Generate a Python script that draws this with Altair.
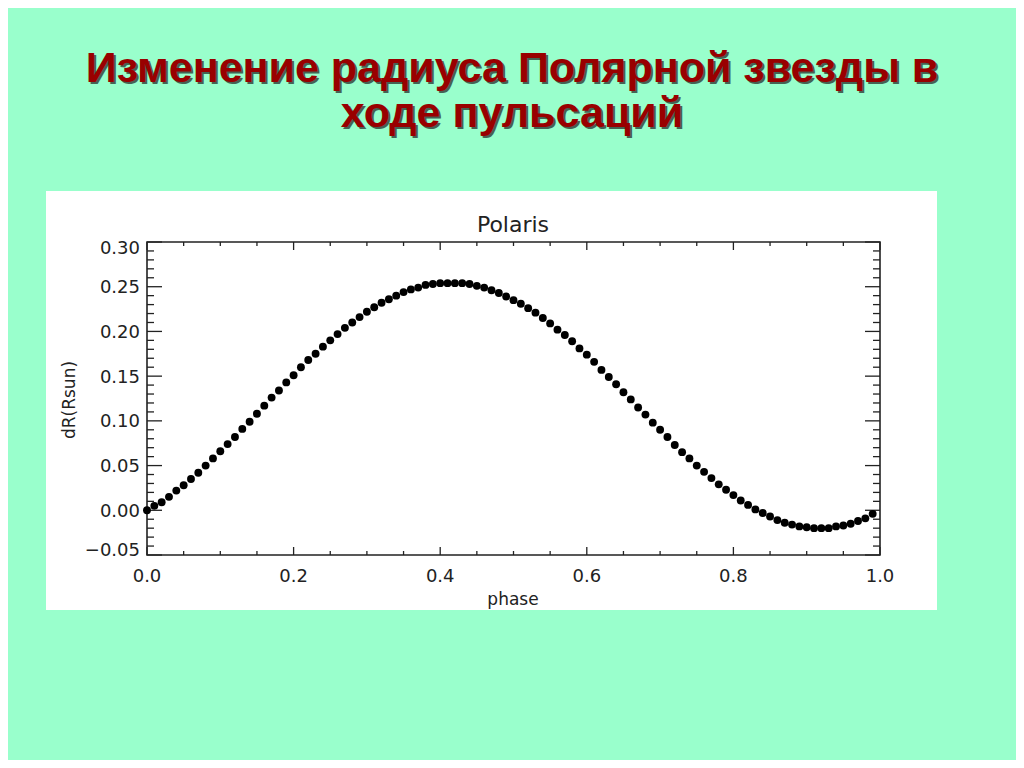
import altair as alt
import pandas as pd

# ---------------- data ----------------
phase = [0.00, 0.01, 0.02, 0.03, 0.04, 0.05, 0.06, 0.07, 0.08, 0.09,
         0.10, 0.11, 0.12, 0.13, 0.14, 0.15, 0.16, 0.17, 0.18, 0.19,
         0.20, 0.21, 0.22, 0.23, 0.24, 0.25, 0.26, 0.27, 0.28, 0.29,
         0.30, 0.31, 0.32, 0.33, 0.34, 0.35, 0.36, 0.37, 0.38, 0.39,
         0.40, 0.41, 0.42, 0.43, 0.44, 0.45, 0.46, 0.47, 0.48, 0.49,
         0.50, 0.51, 0.52, 0.53, 0.54, 0.55, 0.56, 0.57, 0.58, 0.59,
         0.60, 0.61, 0.62, 0.63, 0.64, 0.65, 0.66, 0.67, 0.68, 0.69,
         0.70, 0.71, 0.72, 0.73, 0.74, 0.75, 0.76, 0.77, 0.78, 0.79,
         0.80, 0.81, 0.82, 0.83, 0.84, 0.85, 0.86, 0.87, 0.88, 0.89,
         0.90, 0.91, 0.92, 0.93, 0.94, 0.95, 0.96, 0.97, 0.98, 0.99]
dR = [0.000, 0.005, 0.009, 0.015, 0.022, 0.028, 0.035, 0.042, 0.050, 0.058,
      0.066, 0.074, 0.082, 0.091, 0.099, 0.108, 0.117, 0.126, 0.134, 0.143,
      0.151, 0.160, 0.168, 0.175, 0.183, 0.190, 0.197, 0.204, 0.210, 0.216,
      0.222, 0.227, 0.232, 0.236, 0.240, 0.244, 0.247, 0.249, 0.252, 0.253,
      0.254, 0.254, 0.254, 0.254, 0.253, 0.251, 0.249, 0.246, 0.243, 0.239,
      0.235, 0.231, 0.226, 0.221, 0.215, 0.209, 0.202, 0.196, 0.189, 0.181,
      0.174, 0.166, 0.157, 0.149, 0.141, 0.132, 0.124, 0.115, 0.107, 0.098,
      0.090, 0.082, 0.073, 0.065, 0.058, 0.050, 0.043, 0.036, 0.029, 0.023,
      0.017, 0.011, 0.006, 0.001, -0.003, -0.007, -0.011, -0.014, -0.016, -0.018,
      -0.019, -0.020, -0.020, -0.020, -0.018, -0.017, -0.015, -0.012, -0.009, -0.004]

x_major = [0.0, 0.2, 0.4, 0.6, 0.8, 1.0]
x_minor = [0.05, 0.10, 0.15, 0.25, 0.30, 0.35, 0.45, 0.50, 0.55,
           0.65, 0.70, 0.75, 0.85, 0.90, 0.95]
y_major = [-0.05, 0.00, 0.05, 0.10, 0.15, 0.20, 0.25, 0.30]
y_minor = [-0.04, -0.03, -0.02, -0.01, 0.01, 0.02, 0.03, 0.04,
           0.06, 0.07, 0.08, 0.09, 0.11, 0.12, 0.13, 0.14,
           0.16, 0.17, 0.18, 0.19, 0.21, 0.22, 0.23, 0.24,
           0.26, 0.27, 0.28, 0.29]

title_line1 = "Изменение радиуса Полярной звезды в"
title_line2 = "ходе пульсаций"
plot_title = "Polaris"
x_title = "phase"
y_title = "dR(Rsun)"

# ---------------- layout / style ----------------
W, H = 733, 313
INK = "#222222"
LABEL_FONT = "DejaVu Sans"
TITLE_FONT = "Liberation Sans"
TITLE_RED = "#990000"
LABEL_SIZE = 18

xs = alt.Scale(domain=[0, 1], nice=False, zero=False)
ys = alt.Scale(domain=[-0.05, 0.30], nice=False, zero=False)

one = pd.DataFrame({"k": [0]})

panel = alt.Chart(one).mark_rect(color="white").encode(
    x=alt.value(-101), x2=alt.value(790), y=alt.value(-51), y2=alt.value(368)
)


def title_text(txt, y, color, dx=0, dy=0, opacity=1.0):
    return alt.Chart(one).mark_text(
        text=txt, font=TITLE_FONT, fontSize=43, fontWeight="bold",
        color=color, align="center", baseline="alphabetic",
        dx=dx, dy=dy, opacity=opacity,
    ).encode(x=alt.value(365), y=alt.value(y))


shadow1 = title_text(title_line1, -160, "#222222", dx=2, dy=2, opacity=0.7)
shadow2 = title_text(title_line2, -115, "#222222", dx=2, dy=2, opacity=0.7)
line1 = title_text(title_line1, -160, TITLE_RED)
line2 = title_text(title_line2, -115, TITLE_RED)


def free_text(txt, x, y, size, angle=0):
    return alt.Chart(one).mark_text(
        text=txt, font=LABEL_FONT, fontSize=size, color=INK,
        align="center", baseline="alphabetic", angle=angle,
    ).encode(x=alt.value(x), y=alt.value(y))


polaris = free_text(plot_title, 366, -10, 22)
xtitle = free_text(x_title, 366, 363, 17)
ytitle = free_text(y_title, -72, 158, 17, angle=270)

frame = alt.Chart(one).mark_rect(
    fillOpacity=0, stroke=INK, strokeWidth=1.6
).encode(x=alt.value(0), x2=alt.value(W), y=alt.value(0), y2=alt.value(H))


def ticks(vals, ch, pos, length):
    df = pd.DataFrame({"v": vals})
    if ch == "x":
        enc = dict(x=alt.X("v:Q", scale=xs, axis=None),
                   y=alt.value(pos), y2=alt.value(pos + length))
    else:
        enc = dict(y=alt.Y("v:Q", scale=ys, axis=None),
                   x=alt.value(pos), x2=alt.value(pos + length))
    return alt.Chart(df).mark_rule(color=INK, strokeWidth=1.3).encode(**enc)


tick_layers = [
    ticks(x_major, "x", H, -8), ticks(x_minor, "x", H, -4),
    ticks(x_major, "x", 0, 8), ticks(x_minor, "x", 0, 4),
    ticks(y_major, "y", 0, 15), ticks(y_minor, "y", 0, 7),
    ticks(y_major, "y", W, -15), ticks(y_minor, "y", W, -7),
]

# tick labels, placed through the scales
xlab = alt.Chart(pd.DataFrame({"v": x_major})).mark_text(
    font=LABEL_FONT, fontSize=LABEL_SIZE, color=INK, align="center",
    baseline="alphabetic"
).encode(x=alt.X("v:Q", scale=xs, axis=None), y=alt.value(340),
         text=alt.Text("v:Q", format=".1f"))

ydf = pd.DataFrame({"v": y_major})


def ylab(filt, dy):
    return alt.Chart(ydf).transform_filter(filt).mark_text(
        font=LABEL_FONT, fontSize=LABEL_SIZE, color=INK, align="right",
        baseline="middle", dy=dy,
    ).encode(y=alt.Y("v:Q", scale=ys, axis=None), x=alt.value(-7),
             text=alt.Text("v:Q", format=".2f"))


ylab_mid = ylab("datum.v > -0.04 && datum.v < 0.29", 1.5)
ylab_top = ylab("datum.v >= 0.29", 7)
ylab_bot = ylab("datum.v <= -0.04", -4)

df = pd.DataFrame({"phase": phase, "dR": dR})
dots = alt.Chart(df).mark_circle(size=62, color="black", opacity=1).encode(
    x=alt.X("phase:Q", scale=xs, axis=None),
    y=alt.Y("dR:Q", scale=ys, axis=None),
)

chart = alt.layer(
    panel, shadow1, shadow2, line1, line2, polaris, xtitle, ytitle,
    xlab, ylab_mid, ylab_top, ylab_bot, *tick_layers, frame, dots
).properties(
    width=W, height=H,
    autosize=alt.AutoSizeParams(type="none"),
    padding={"left": 139, "top": 234, "right": 136, "bottom": 205},
).configure(
    background="#99FFCC"
).configure_view(stroke="transparent")

chart.save("out.html", embed_options={"renderer": "svg", "actions": False})
